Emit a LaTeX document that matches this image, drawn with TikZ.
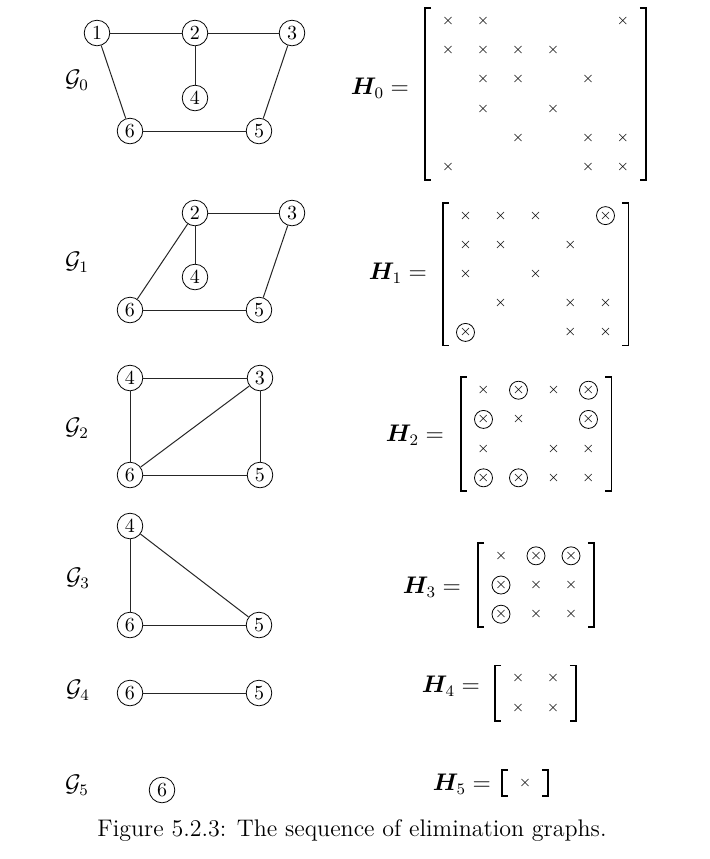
\documentclass[tikz,border=0pt]{standalone}
\usepackage{amsmath,amssymb,bm}
\usetikzlibrary{matrix}

\tikzset{
  vtx/.style={draw,circle,inner sep=0pt,minimum size=12.8pt},
  edg/.style={black!85,line width=0.5pt},
  lbl/.style={font=\large},
  mat/.style={matrix of math nodes,inner sep=0pt,
    nodes={minimum width=17.5pt,minimum height=14.6pt,inner sep=0pt,font=\scriptsize}},
  ox/.style={draw,circle,inner sep=0pt,minimum size=9pt},
  brk/.style={line width=0.9pt},
}

% square brackets round a matrix node
\newcommand{\mbrack}[1]{%
  \draw[brk] ([xshift=0.5pt,yshift=-1pt]#1.north west) -- ([xshift=-2.5pt,yshift=-1pt]#1.north west)
    -- ([xshift=-2.5pt,yshift=1pt]#1.south west) -- ([xshift=0.5pt,yshift=1pt]#1.south west);
  \draw[brk] ([xshift=-0.5pt,yshift=-1pt]#1.north east) -- ([xshift=2.5pt,yshift=-1pt]#1.north east)
    -- ([xshift=2.5pt,yshift=1pt]#1.south east) -- ([xshift=-0.5pt,yshift=1pt]#1.south east);}

\begin{document}
\begin{tikzpicture}[x=0.5pt,y=-0.5pt]
\useasboundingbox (0,0) rectangle (709,859);

% G_0
\node[lbl] (g0) at (77,80) {$\mathcal{G}_0$};
\node[vtx] (a1) at (97,33) {1};
\node[vtx] (a2) at (195,33) {2};
\node[vtx] (a3) at (292,33) {3};
\node[vtx] (a4) at (195,98) {4};
\node[vtx] (a5) at (259,131) {5};
\node[vtx] (a6) at (130,131) {6};
\draw[edg] (a1) -- (a2);
\draw[edg] (a2) -- (a3);
\draw[edg] (a2) -- (a4);
\draw[edg] (a1) -- (a6);
\draw[edg] (a3) -- (a5);
\draw[edg] (a6) -- (a5);

% G_1
\node[lbl] (g1) at (77,262) {$\mathcal{G}_1$};
\node[vtx] (b2) at (195,213) {2};
\node[vtx] (b3) at (292,213) {3};
\node[vtx] (b4) at (195,277) {4};
\node[vtx] (b5) at (259,310) {5};
\node[vtx] (b6) at (130,310) {6};
\draw[edg] (b2) -- (b3);
\draw[edg] (b2) -- (b4);
\draw[edg] (b2) -- (b6);
\draw[edg] (b3) -- (b5);
\draw[edg] (b6) -- (b5);

% G_2
\node[lbl] (g2) at (77,428) {$\mathcal{G}_2$};
\node[vtx] (c4) at (130,378) {4};
\node[vtx] (c3) at (260,378) {3};
\node[vtx] (c6) at (130,475) {6};
\node[vtx] (c5) at (260,475) {5};
\draw[edg] (c4) -- (c3);
\draw[edg] (c4) -- (c6);
\draw[edg] (c6) -- (c3);
\draw[edg] (c3) -- (c5);
\draw[edg] (c6) -- (c5);

% G_3
\node[lbl] (g3) at (78,578) {$\mathcal{G}_3$};
\node[vtx] (d4) at (130,526) {4};
\node[vtx] (d6) at (130,625) {6};
\node[vtx] (d5) at (259,625) {5};
\draw[edg] (d4) -- (d6);
\draw[edg] (d4) -- (d5);
\draw[edg] (d6) -- (d5);

% G_4
\node[lbl] (g4) at (78,690) {$\mathcal{G}_4$};
\node[vtx] (e6) at (130,693) {6};
\node[vtx] (e5) at (259,693) {5};
\draw[edg] (e6) -- (e5);

% G_5
\node[lbl] (g5) at (77,785) {$\mathcal{G}_5$};
\node[vtx] (f6) at (162,790) {6};

% H_0
\node[lbl] (l0) at (380,88) {$\bm{H}_0 =$};
\matrix[mat] (h0) at (535.5,94) {
\times & \times &        &        &        & \times \\
\times & \times & \times & \times &        &        \\
       & \times & \times &        & \times &        \\
       & \times &        & \times &        &        \\
       &        & \times &        & \times & \times \\
\times &        &        &        & \times & \times \\
};
\mbrack{h0}

% H_1
\node[lbl] (l1) at (398,273) {$\bm{H}_1 =$};
\matrix[mat] (h1) at (535.5,274) {
\times & \times & \times &        & |[ox]| \times \\
\times & \times &        & \times &        \\
\times &        & \times &        &        \\
       & \times &        & \times & \times \\
|[ox]| \times &  &      & \times & \times \\
};
\mbrack{h1}

% H_2
\node[lbl] (l2) at (415,435) {$\bm{H}_2 =$};
\matrix[mat] (h2) at (536,434) {
\times & |[ox]| \times & \times & |[ox]| \times \\
|[ox]| \times & \times &  & |[ox]| \times \\
\times &        & \times & \times \\
|[ox]| \times & |[ox]| \times & \times & \times \\
};
\mbrack{h2}

% H_3
\node[lbl] (l3) at (432,587) {$\bm{H}_3 =$};
\matrix[mat] (h3) at (536,585) {
\times & |[ox]| \times & |[ox]| \times \\
|[ox]| \times & \times & \times \\
|[ox]| \times & \times & \times \\
};
\mbrack{h3}

% H_4
\node[lbl] (l4) at (451,686) {$\bm{H}_4 =$};
\matrix[mat] (h4) at (535.5,693) {
\times & \times \\
\times & \times \\
};
\mbrack{h4}

% H_5
\node[lbl] (l5) at (462,784) {$\bm{H}_5 =$};
\matrix[mat] (h5) at (525,783) {
\times \\
};
\mbrack{h5}

\node[lbl] (cap) at (352,830) {Figure 5.2.3: The sequence of elimination graphs.};
\end{tikzpicture}
\end{document}
